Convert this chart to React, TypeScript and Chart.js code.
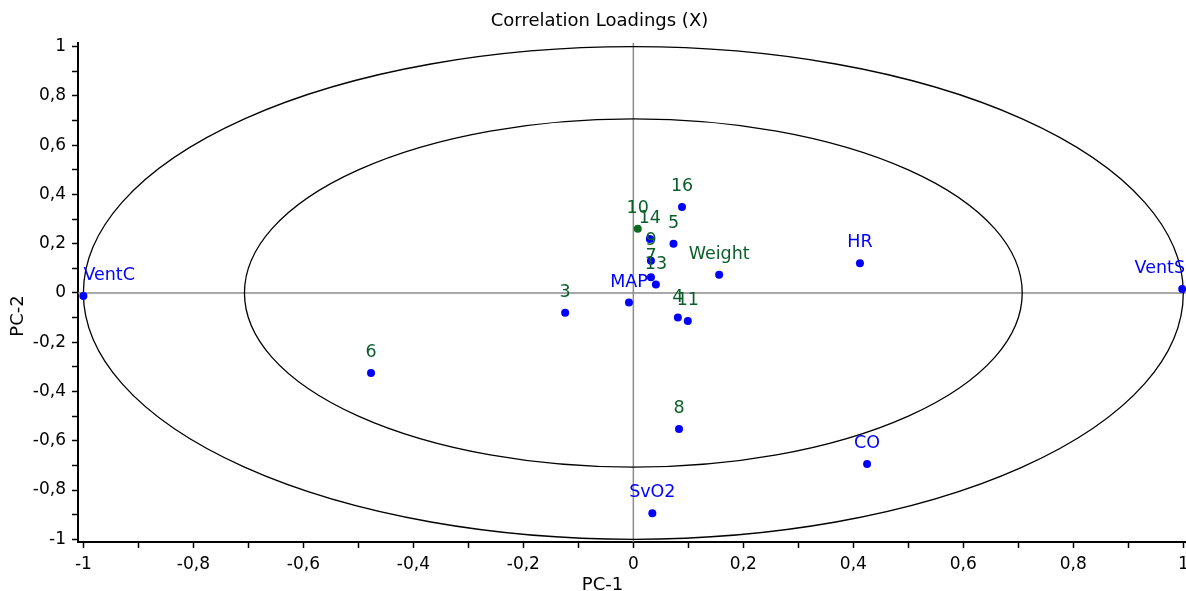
import { useEffect, useRef } from 'react';
import { Chart, registerables } from 'chart.js';

Chart.register(...registerables);

// Correlation loadings (PC-1, PC-2)
const pointLabels = ['VentC', 'VentS', 'HR', 'CO', 'SvO2', 'MAP', 'Weight', '16', '10', '14', '9', '7', '13', '5', '4', '11', '3', '6', '8'];
const pc1Values = [-1.0, 0.998, 0.412, 0.425, 0.0345, -0.008, 0.156, 0.0885, 0.008, 0.030, 0.032, 0.032, 0.041, 0.073, 0.081, 0.099, -0.124, -0.477, 0.083];
const pc2Values = [-0.012, 0.016, 0.121, -0.694, -0.894, -0.039, 0.074, 0.349, 0.261, 0.219, 0.131, 0.064, 0.034, 0.200, -0.100, -0.114, -0.080, -0.325, -0.552];
const variableLabels = ['VentC', 'VentS', 'HR', 'CO', 'SvO2', 'MAP'];
const greenPointLabels = ['10'];
const ellipseRadii = [1, Math.SQRT1_2];

const titleText = 'Correlation Loadings (X)';
const xTitle = 'PC-1';
const yTitle = 'PC-2';

const BLUE = '#0000ff';
const GREEN = '#0b5e2a';
const FONT = '"DejaVu Sans", "Liberation Sans", Arial, sans-serif';
const CANVAS_W = 1186;
const CANVAS_H = 591;

const fmtTick = (v: number) => {
  const n = Math.round(v * 10);
  if (n % 2 !== 0) return '';
  return String(n / 10).replace('.', ',');
};

const overlayPlugin = {
  id: 'overlay',
  beforeDatasetsDraw(chart: any) {
    const { ctx, chartArea, scales } = chart;
    const xs = scales.x, ys = scales.y;
    const x0 = xs.getPixelForValue(0), y0 = ys.getPixelForValue(0);
    ctx.save();
    ctx.strokeStyle = '#8c8c8c';
    ctx.lineWidth = 1.5;
    ctx.beginPath();
    ctx.moveTo(chartArea.left, y0);
    ctx.lineTo(chartArea.right, y0);
    ctx.moveTo(x0, chartArea.top);
    ctx.lineTo(x0, chartArea.bottom);
    ctx.stroke();
    ctx.strokeStyle = '#000';
    ctx.lineWidth = 1.3;
    for (const r of ellipseRadii) {
      const rx = xs.getPixelForValue(r) - x0;
      const ry = y0 - ys.getPixelForValue(r);
      ctx.beginPath();
      ctx.ellipse(x0, y0, rx, ry, 0, 0, Math.PI * 2);
      ctx.stroke();
    }
    ctx.restore();
  },
  afterDatasetsDraw(chart: any) {
    const { ctx, scales } = chart;
    const xs = scales.x, ys = scales.y;
    ctx.save();
    ctx.font = `17.5px ${FONT}`;
    ctx.textAlign = 'left';
    ctx.textBaseline = 'alphabetic';
    const leftLimit = xs.getPixelForValue(-1);
    const rightLimit = CANVAS_W - 1;
    pointLabels.forEach((lab, i) => {
      const px = xs.getPixelForValue(pc1Values[i]);
      const py = ys.getPixelForValue(pc2Values[i]);
      const w = ctx.measureText(lab).width;
      let left = px - w / 2;
      if (left < leftLimit) left = leftLimit;
      if (left + w > rightLimit) left = rightLimit - w;
      ctx.fillStyle = variableLabels.includes(lab) ? BLUE : GREEN;
      ctx.fillText(lab, left, py - 16);
    });
    ctx.restore();
  },
  afterDraw(chart: any) {
    const { ctx } = chart;
    ctx.save();
    ctx.fillStyle = '#000';
    ctx.textAlign = 'center';
    ctx.textBaseline = 'alphabetic';
    ctx.font = `18px ${FONT}`;
    ctx.fillText(titleText, 599.5, 26);
    ctx.fillText(xTitle, 602.5, 589.5);
    ctx.translate(23, 316);
    ctx.rotate(-Math.PI / 2);
    ctx.fillText(yTitle, 0, 0);
    ctx.restore();
  },
};

export default function App() {
  const canvasRef = useRef<HTMLCanvasElement | null>(null);

  useEffect(() => {
    document.body.style.margin = '0';
    const canvas = canvasRef.current;
    if (!canvas) return;
    const axisCommon = {
      type: 'linear' as const,
      border: { display: true, color: '#000', width: 2 },
      grid: {
        drawOnChartArea: false,
        drawTicks: true,
        tickLength: 6,
        tickWidth: 1.5,
        tickColor: '#000',
      },
    };
    const chart = new Chart(canvas, {
      type: 'scatter',
      data: {
        datasets: [
          {
            data: pointLabels.map((_, i) => ({ x: pc1Values[i], y: pc2Values[i] })),
            pointBackgroundColor: pointLabels.map((l) => (greenPointLabels.includes(l) ? '#0b6a1e' : BLUE)),
            pointBorderWidth: 0,
            pointRadius: 4,
            pointHoverRadius: 4,
            clip: false,
          },
        ],
      },
      options: {
        responsive: false,
        animation: false,
        devicePixelRatio: 1,
        layout: { autoPadding: false, padding: { top: 43, left: 0, right: 0, bottom: 0 } },
        plugins: {
          legend: { display: false },
          tooltip: { enabled: false },
          title: { display: false },
        },
        scales: {
          x: {
            ...axisCommon,
            position: 'bottom',
            min: -1.0098,
            max: 1.0049,
            ticks: {
              stepSize: 0.1,
              maxTicksLimit: 40,
              includeBounds: false,
              autoSkip: false,
              maxRotation: 0,
              minRotation: 0,
              padding: 6,
              color: '#000',
              font: { family: FONT, size: 17 },
              callback: (v: any) => fmtTick(Number(v)),
            },
            afterFit: (scale: any) => {
              scale.height = 49;
              scale.paddingLeft = 0;
              scale.paddingRight = 0;
            },
          },
          y: {
            ...axisCommon,
            position: 'left',
            min: -1.011,
            max: 1.015,
            ticks: {
              stepSize: 0.1,
              maxTicksLimit: 40,
              includeBounds: false,
              autoSkip: false,
              padding: 6,
              color: '#000',
              font: { family: FONT, size: 17 },
              callback: (v: any) => fmtTick(Number(v)),
            },
            afterFit: (scale: any) => {
              scale.width = 78;
              scale.paddingTop = 0;
              scale.paddingBottom = 0;
            },
          },
        },
      } as any,
      plugins: [overlayPlugin],
    });
    return () => chart.destroy();
  }, []);

  return <canvas ref={canvasRef} width={CANVAS_W} height={CANVAS_H} style={{ display: 'block' }} />;
}
